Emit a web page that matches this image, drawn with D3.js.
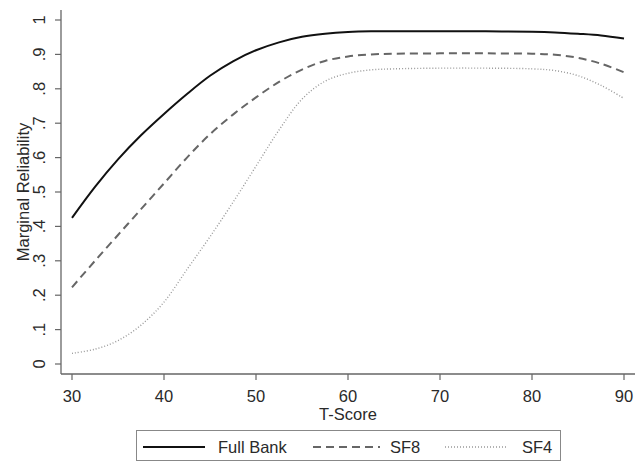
<!DOCTYPE html>
<html>
<head>
<meta charset="utf-8">
<script src="https://cdn.jsdelivr.net/npm/d3@7"></script>
<style>
body{margin:0;background:#fff;}
.fonts{font-family:"Liberation Sans",Arial,sans-serif;font-size:16.5px;fill:#2a2a2a;}
</style>
</head>
<body>
<div id="viz_reliability" style="width:643px;height:462px;"></div>
<script>
// T-score grid that the curves were read at
var tScores=[30,32.5,35,37.5,40,42.5,45,47.5,50,52.5,55,57.5,60,62.5,65,70,75,80,82.5,85,87.5,90];
var fullBank=[0.425,0.515,0.595,0.665,0.727,0.785,0.838,0.88,0.912,0.935,0.951,0.96,0.965,0.967,0.967,0.967,0.967,0.966,0.964,0.96,0.955,0.946];
var sf8=[0.223,0.30,0.375,0.45,0.525,0.60,0.668,0.725,0.775,0.82,0.856,0.881,0.894,0.90,0.902,0.903,0.903,0.902,0.899,0.89,0.873,0.848];
var sf4=[0.031,0.043,0.068,0.113,0.18,0.275,0.37,0.47,0.575,0.68,0.77,0.822,0.845,0.855,0.858,0.86,0.86,0.858,0.853,0.838,0.81,0.772];

var seriesNames=["Full Bank","SF8","SF4"];
var xTicks=[30,40,50,60,70,80,90];
var yTicks=[0,0.1,0.2,0.3,0.4,0.5,0.6,0.7,0.8,0.9,1];
var yTickLabels=["0",".1",".2",".3",".4",".5",".6",".7",".8",".9","1"];

var width=643,height=462;
var svg=d3.select("#viz_reliability")
  .append("svg")
  .attr("width",width)
  .attr("height",height);

// plot region edges
var plotLeft=61,plotRight=635,plotTop=10,plotBottom=374;

var xScale=d3.scaleLinear()
  .domain([30,90])
  .range([72,624]);
var yScale=d3.scaleLinear()
  .domain([0,1])
  .range([364,20]);

var axisColor="#666";

// y axis
svg.append("line")
  .attr("x1",plotLeft).attr("x2",plotLeft)
  .attr("y1",plotTop).attr("y2",plotBottom)
  .attr("stroke",axisColor).attr("stroke-width",1.3);
svg.selectAll(".ytick")
  .data(yTicks)
  .enter()
  .append("line")
  .attr("class","ytick")
  .attr("x1",plotLeft-6).attr("x2",plotLeft)
  .attr("y1",function(d){return yScale(d);})
  .attr("y2",function(d){return yScale(d);})
  .attr("stroke",axisColor).attr("stroke-width",1.2);
svg.selectAll(".ylab")
  .data(yTicks)
  .enter()
  .append("text")
  .attr("class","fonts ylab")
  .attr("transform",function(d){return "translate(45,"+yScale(d)+") rotate(-90)";})
  .style("text-anchor","middle")
  .text(function(d,i){return yTickLabels[i];});
svg.append("text")
  .attr("class","fonts")
  .attr("transform","translate(29,"+((plotTop+plotBottom)/2)+") rotate(-90)")
  .style("text-anchor","middle")
  .text("Marginal Reliability");

// x axis
svg.append("line")
  .attr("x1",plotLeft).attr("x2",plotRight)
  .attr("y1",plotBottom).attr("y2",plotBottom)
  .attr("stroke",axisColor).attr("stroke-width",1.3);
svg.selectAll(".xtick")
  .data(xTicks)
  .enter()
  .append("line")
  .attr("class","xtick")
  .attr("x1",function(d){return xScale(d);})
  .attr("x2",function(d){return xScale(d);})
  .attr("y1",plotBottom).attr("y2",plotBottom+6)
  .attr("stroke",axisColor).attr("stroke-width",1.2);
svg.selectAll(".xlab")
  .data(xTicks)
  .enter()
  .append("text")
  .attr("class","fonts xlab")
  .attr("x",function(d){return xScale(d);})
  .attr("y",402)
  .style("text-anchor","middle")
  .text(function(d){return d;});
svg.append("text")
  .attr("class","fonts")
  .attr("x",xScale(60))
  .attr("y",420)
  .style("text-anchor","middle")
  .text("T-Score");

// curves
var styles=[
  {color:"#111",width:2,dash:null},
  {color:"#666",width:2,dash:"8,5"},
  {color:"#999",width:1.4,dash:"1,2"}
];
var allSeries=[fullBank,sf8,sf4];

var line=d3.line()
  .x(function(d){return xScale(d[0]);})
  .y(function(d){return yScale(d[1]);})
  .curve(d3.curveCatmullRom.alpha(0.5));

allSeries.forEach(function(vals,i){
  svg.append("path")
    .datum(tScores.map(function(t,j){return [t,vals[j]];}))
    .attr("d",line)
    .attr("fill","none")
    .attr("stroke",styles[i].color)
    .attr("stroke-width",styles[i].width)
    .attr("stroke-dasharray",styles[i].dash);
});

// legend
svg.append("rect")
  .attr("x",136.5).attr("y",430.5)
  .attr("width",424).attr("height",30)
  .attr("fill","#fff")
  .attr("stroke","#888")
  .attr("stroke-width",1);

var legendLines=[[143,205],[313,380],[445,508]];
var legendText=[218,390,522];
for(var i=0;i<3;i++)
{
  svg.append("line")
    .attr("x1",legendLines[i][0]).attr("x2",legendLines[i][1])
    .attr("y1",447).attr("y2",447)
    .attr("stroke",styles[i].color)
    .attr("stroke-width",styles[i].width)
    .attr("stroke-dasharray",styles[i].dash);
  svg.append("text")
    .attr("class","fonts")
    .attr("x",legendText[i])
    .attr("y",453)
    .text(seriesNames[i]);
}
</script>
</body>
</html>
